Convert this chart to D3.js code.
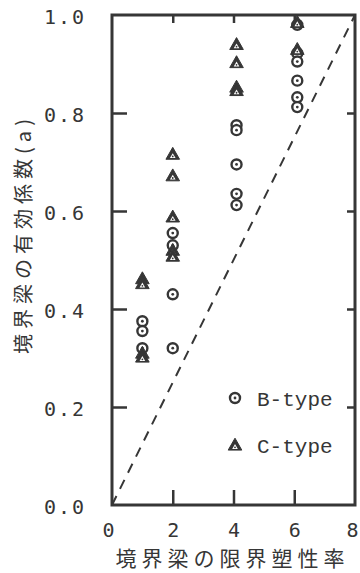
<!DOCTYPE html>
<html>
<head>
<meta charset="utf-8">
<script src="https://cdn.jsdelivr.net/npm/d3@7"></script>
<style>
html,body{margin:0;padding:0;background:#fff;}
svg{display:block;}
</style>
</head>
<body>
<svg id="chart" width="360" height="573"></svg>
<script>
// ---- data ----
const xTicks = [0, 2, 4, 6, 8];
const yTicks = [0.0, 0.2, 0.4, 0.6, 0.8, 1.0];
const xTitle = "境界梁の限界塑性率";
const yTitle = "境界梁の有効係数(a)";
const legendLabels = ["B-type", "C-type"];

// B-type (circles)
const bX = [1, 1, 1, 2, 2, 2, 2, 4.1, 4.1, 4.1, 4.1, 4.1, 6.1, 6.1, 6.1, 6.1, 6.1, 6.1];
const bY = [0.375, 0.355, 0.32, 0.555, 0.53, 0.43, 0.32, 0.775, 0.765, 0.695, 0.635, 0.612, 0.98, 0.922, 0.905, 0.866, 0.832, 0.812];
// C-type (triangles)
const cX = [1, 1, 1, 1, 2, 2, 2, 2, 2, 4.1, 4.1, 4.1, 4.1, 6.1, 6.1];
const cY = [0.462, 0.452, 0.31, 0.302, 0.716, 0.672, 0.588, 0.52, 0.508, 0.94, 0.903, 0.853, 0.846, 0.985, 0.93];
// reference line a = mu / 8
const refX = [0, 8];
const refY = [0, 1];

// ---- layout ----
const ink = "#363636";
const svg = d3.select("#chart");
const L = 112, R = 355, T = 15, B = 505;
const x = d3.scaleLinear().domain([0, 8]).range([L, R]);
const y = d3.scaleLinear().domain([0, 1]).range([B, T]);

// frame
svg.append("rect").attr("x", L).attr("y", T).attr("width", R - L).attr("height", B - T)
  .attr("fill", "none").attr("stroke", ink).attr("stroke-width", 3);

// axes with inner ticks
const bottomAxis = d3.axisBottom(x).tickValues(xTicks).tickFormat(d => d).tickSizeInner(-15).tickSizeOuter(0).tickPadding(22);
const gB = svg.append("g").attr("transform", `translate(0,${B})`).call(bottomAxis);
const leftAxis = d3.axisLeft(y).tickValues(yTicks).tickFormat(d3.format(".1f")).tickSizeInner(-15).tickSizeOuter(0).tickPadding(26);
const gL = svg.append("g").attr("transform", `translate(${L},0)`).call(leftAxis);
const rightAxis = d3.axisRight(y).tickValues([0.2, 0.4, 0.6, 0.8]).tickFormat("").tickSizeInner(-8).tickSizeOuter(0);
const gR = svg.append("g").attr("transform", `translate(${R},0)`).call(rightAxis);
const topAxis = d3.axisTop(x).tickValues([2, 4, 6]).tickFormat("").tickSizeInner(-8).tickSizeOuter(0);
const gT = svg.append("g").attr("transform", `translate(0,${T})`).call(topAxis);

[gB, gL, gR, gT].forEach(g => {
  g.select(".domain").remove();
  g.selectAll(".tick line").attr("stroke", ink).attr("stroke-width", 2.5);
  g.selectAll(".tick line").filter(d => d === 0 || d === 8 || d === 1).remove();
  g.selectAll("text").attr("fill", ink)
    .attr("font-family", "'DejaVu Sans Mono', 'Liberation Mono', monospace")
    .attr("font-size", 20);
});
gL.selectAll("text").attr("letter-spacing", 2).attr("dy", "0.4em");
gB.selectAll("text").attr("dy", "0.5em");
gB.selectAll(".tick").filter(d => d === 0).select("text").attr("dx", -4);
gB.selectAll(".tick").filter(d => d === 8).select("text").attr("dx", -3);

// dashed reference line
svg.append("line")
  .attr("x1", x(refX[0])).attr("y1", y(refY[0]))
  .attr("x2", x(refX[1])).attr("y2", y(refY[1]))
  .attr("stroke", ink).attr("stroke-width", 2).attr("stroke-dasharray", "10,8");

// markers
function circleMark(g, cx, cy) {
  g.append("circle").attr("cx", cx).attr("cy", cy).attr("r", 5)
    .attr("fill", "#fff").attr("stroke", ink).attr("stroke-width", 2.4);
  g.append("circle").attr("cx", cx).attr("cy", cy).attr("r", 1.4).attr("fill", ink);
}
function triMark(g, cx, cy) {
  const s = 6.8;
  const outer = [[cx, cy - s], [cx + s, cy + s * 0.75], [cx - s, cy + s * 0.75]];
  g.append("path").attr("d", "M" + outer.join("L") + "Z").attr("fill", ink)
    .attr("stroke", ink).attr("stroke-width", 1).attr("stroke-linejoin", "round");
  const i = 2.8, oy = cy + 1.8;
  const inner = [[cx, oy - i], [cx + i, oy + i * 0.75], [cx - i, oy + i * 0.75]];
  g.append("path").attr("d", "M" + inner.join("L") + "Z").attr("fill", "#fff");
  g.append("circle").attr("cx", cx).attr("cy", oy + 0.5).attr("r", 0.9).attr("fill", ink);
}

const gPts = svg.append("g");
bX.forEach((v, k) => circleMark(gPts, x(v), y(bY[k])));
cX.forEach((v, k) => triMark(gPts, x(v), y(cY[k])));

// legend
const legX = 235;
const legY = [398, 445];
const gLeg = svg.append("g");
circleMark(gLeg, legX, legY[0]);
triMark(gLeg, legX, legY[1]);
legendLabels.forEach((t, k) => {
  gLeg.append("text").attr("x", 257).attr("y", legY[k]).attr("dy", "0.36em")
    .attr("fill", ink).attr("font-family", "'Liberation Mono', 'DejaVu Sans Mono', monospace")
    .attr("font-size", 21).text(t);
});

// axis titles
svg.append("text").attr("x", (L + R) / 2 - 1).attr("y", 566).attr("text-anchor", "middle")
  .attr("fill", ink).attr("font-family", "'Noto Sans CJK JP', sans-serif").attr("font-size", 21)
  .attr("letter-spacing", 5).text(xTitle);
svg.append("text").attr("transform", "translate(31,234) rotate(-90)").attr("text-anchor", "middle")
  .attr("fill", ink).attr("font-family", "'Noto Sans CJK JP', sans-serif").attr("font-size", 20)
  .attr("letter-spacing", 5).text(yTitle);
</script>
</body>
</html>
